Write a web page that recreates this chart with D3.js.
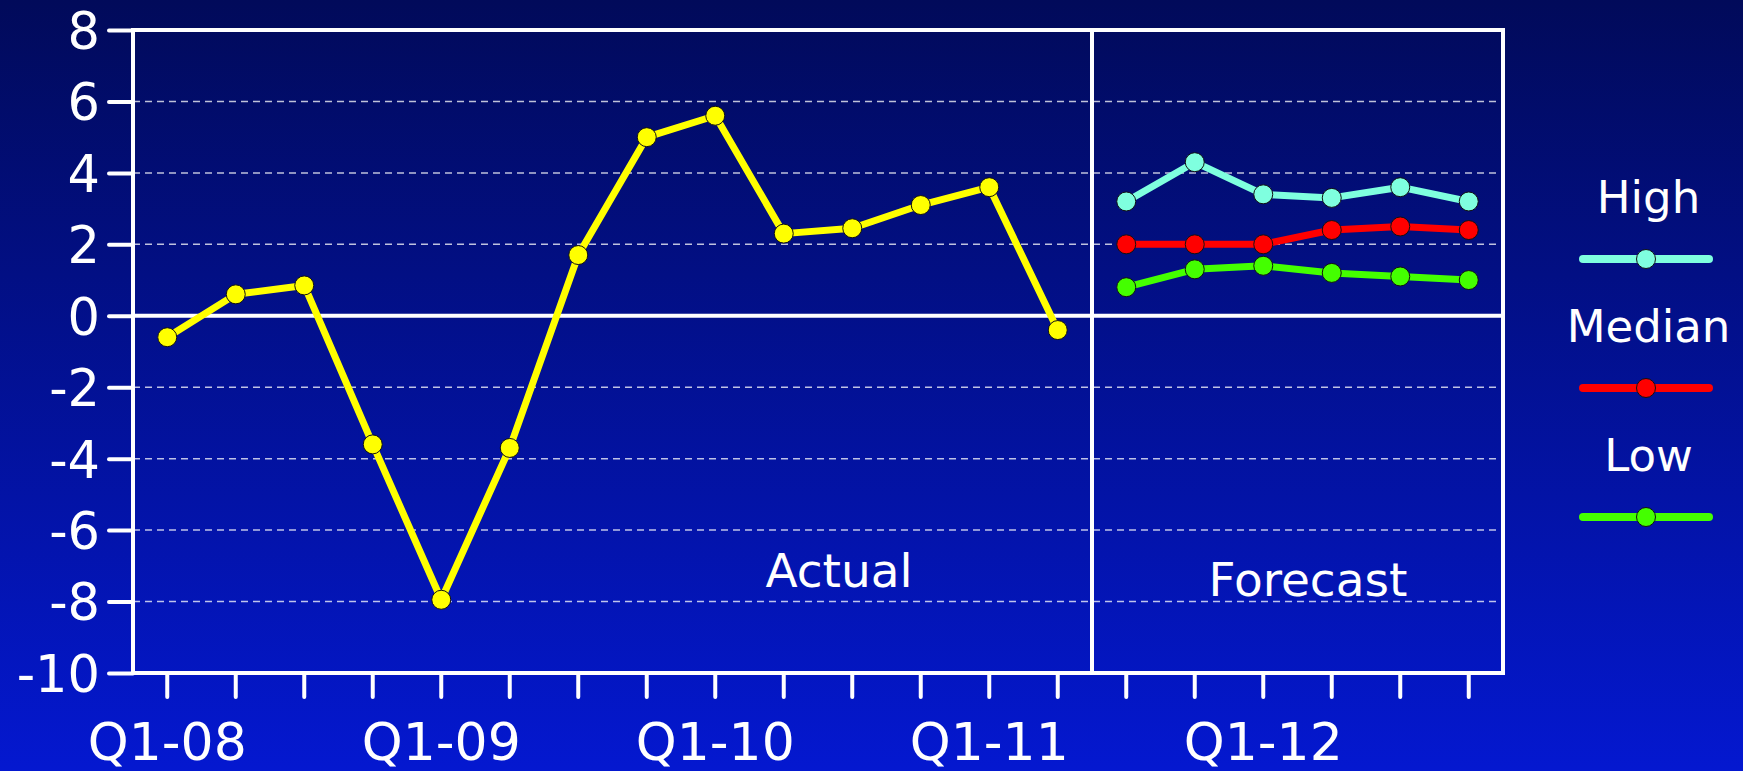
<!DOCTYPE html>
<html>
<head>
<meta charset="utf-8">
<script src="https://cdn.jsdelivr.net/npm/d3@7"></script>
<style>
  html, body { margin: 0; padding: 0; background: #000a5a; }
  svg { display: block; }
  text { font-family: "DejaVu Sans", Verdana, sans-serif; fill: #fff; }
</style>
</head>
<body>
<svg id="chart" width="1743" height="771"></svg>
<script>
// quarters on the x axis
const quarters = [
    "Q1-08", "Q2-08", "Q3-08", "Q4-08",
    "Q1-09", "Q2-09", "Q3-09", "Q4-09",
    "Q1-10", "Q2-10", "Q3-10", "Q4-10",
    "Q1-11", "Q2-11", "Q3-11", "Q4-11",
    "Q1-12", "Q2-12", "Q3-12", "Q4-12"
];
const tickLabels = ["Q1-08", "Q1-09", "Q1-10", "Q1-11", "Q1-12"];
const yTicks = [8, 6, 4, 2, 0, -2, -4, -6, -8, -10];

// actual growth, Q1-08 .. Q2-11
const actualQuarters = quarters.slice(0, 14);
const actualValues = [-0.6, 0.6, 0.85, -3.6, -7.95, -3.7, 1.7, 5.0, 5.6, 2.3, 2.45, 3.1, 3.6, -0.4];

// forecasts, Q3-11 .. Q4-12
const forecastQuarters = quarters.slice(14);
const highValues = [3.2, 4.3, 3.4, 3.3, 3.6, 3.2];
const medianValues = [2.0, 2.0, 2.0, 2.4, 2.5, 2.4];
const lowValues = [0.8, 1.3, 1.4, 1.2, 1.1, 1.0];

const forecastSeries = [
    { name: "High", color: "#7fffdf", values: highValues },
    { name: "Median", color: "#ff0000", values: medianValues },
    { name: "Low", color: "#44ff00", values: lowValues }
];

const W = 1743, H = 771;
const plot = { left: 133, right: 1503, top: 30, bottom: 673 };

const svg = d3.select("#chart");

// background gradient
const defs = svg.append("defs");
const grad = defs.append("linearGradient")
    .attr("id", "bg").attr("x1", 0).attr("y1", 0).attr("x2", 0).attr("y2", 1);
grad.append("stop").attr("offset", "0%").attr("stop-color", "#010a5a");
grad.append("stop").attr("offset", "100%").attr("stop-color", "#0418d0");
svg.append("rect").attr("width", W).attr("height", H).attr("fill", "url(#bg)");

const x = d3.scaleBand()
    .domain(quarters)
    .range([plot.left, plot.right]);
const xc = d => x(d) + x.bandwidth() / 2;

const y = d3.scaleLinear()
    .domain([-10, 8])
    .range([plot.bottom, plot.top]);

// dashed grid lines
svg.append("g")
    .selectAll("line")
    .data(yTicks.filter(v => v !== 8 && v !== 0 && v !== -10))
    .enter()
    .append("line")
    .attr("x1", plot.left)
    .attr("x2", plot.right)
    .attr("y1", d => y(d))
    .attr("y2", d => y(d))
    .attr("stroke", "#fff")
    .attr("stroke-opacity", 0.75)
    .attr("stroke-width", 1.5)
    .attr("stroke-dasharray", "7,5");

// zero line and actual/forecast divider
svg.append("line")
    .attr("x1", plot.left).attr("x2", plot.right)
    .attr("y1", y(0)).attr("y2", y(0))
    .attr("stroke", "#fff").attr("stroke-width", 4);

const divX = x(forecastQuarters[0]);
svg.append("line")
    .attr("x1", divX).attr("x2", divX)
    .attr("y1", plot.top).attr("y2", plot.bottom)
    .attr("stroke", "#fff").attr("stroke-width", 4);

// frame
svg.append("rect")
    .attr("x", plot.left).attr("y", plot.top)
    .attr("width", plot.right - plot.left)
    .attr("height", plot.bottom - plot.top)
    .attr("fill", "none")
    .attr("stroke", "#fff")
    .attr("stroke-width", 4);

// y axis
const yAxis = d3.axisLeft(y)
    .tickValues(yTicks)
    .tickSize(24)
    .tickPadding(9)
    .tickFormat(d => String(d));
const gy = svg.append("g")
    .attr("transform", `translate(${plot.left},0)`)
    .call(yAxis);
gy.select(".domain").remove();
gy.selectAll(".tick line").attr("stroke", "#fff").attr("stroke-width", 4).attr("stroke-linecap", "round");
gy.selectAll(".tick text")
    .attr("font-size", 51)
    .attr("fill", "#fff")
    .attr("dy", "0.36em")
    .style("font-family", "DejaVu Sans");

// x axis
const xAxis = d3.axisBottom(x)
    .tickSize(24)
    .tickPadding(26)
    .tickFormat(d => tickLabels.includes(d) ? d : "");
const gx = svg.append("g")
    .attr("transform", `translate(0,${plot.bottom})`)
    .call(xAxis);
gx.select(".domain").remove();
gx.selectAll(".tick line").attr("stroke", "#fff").attr("stroke-width", 4).attr("stroke-linecap", "round");
gx.selectAll(".tick text")
    .attr("font-size", 52)
    .attr("fill", "#fff")
    .style("font-family", "DejaVu Sans");

// series lines
const line = d3.line()
    .x(d => xc(d.q))
    .y(d => y(d.v));

const drawSeries = (qs, values, color) => {
    const pts = values.map((v, i) => ({ q: qs[i], v }));
    svg.append("path")
        .datum(pts)
        .attr("d", line)
        .attr("fill", "none")
        .attr("stroke", color)
        .attr("stroke-width", 7)
        .attr("stroke-linejoin", "round");
    svg.append("g")
        .selectAll("circle")
        .data(pts)
        .enter()
        .append("circle")
        .attr("cx", d => xc(d.q))
        .attr("cy", d => y(d.v))
        .attr("r", 9.5)
        .attr("fill", color)
        .attr("stroke", "#111")
        .attr("stroke-width", 1);
};

drawSeries(actualQuarters, actualValues, "#ffff00");
forecastSeries.forEach(s => drawSeries(forecastQuarters, s.values, s.color));

// section labels
svg.append("text")
    .attr("x", 839).attr("y", 587)
    .attr("text-anchor", "middle")
    .attr("font-size", 47)
    .text("Actual");
svg.append("text")
    .attr("x", 1308).attr("y", 596)
    .attr("text-anchor", "middle")
    .attr("font-size", 47)
    .text("Forecast");

// legend
const legend = svg.append("g")
    .selectAll("g")
    .data(forecastSeries)
    .enter()
    .append("g")
    .attr("transform", (d, i) => `translate(1646,${259 + i * 129})`);

legend.append("text")
    .attr("x", 2.5)
    .attr("y", -46)
    .attr("text-anchor", "middle")
    .attr("font-size", 45)
    .text(d => d.name);
legend.append("line")
    .attr("x1", -63).attr("x2", 63)
    .attr("stroke", d => d.color)
    .attr("stroke-width", 8)
    .attr("stroke-linecap", "round");
legend.append("circle")
    .attr("r", 9.5)
    .attr("fill", d => d.color)
    .attr("stroke", "#111")
    .attr("stroke-width", 1);
</script>
</body>
</html>
